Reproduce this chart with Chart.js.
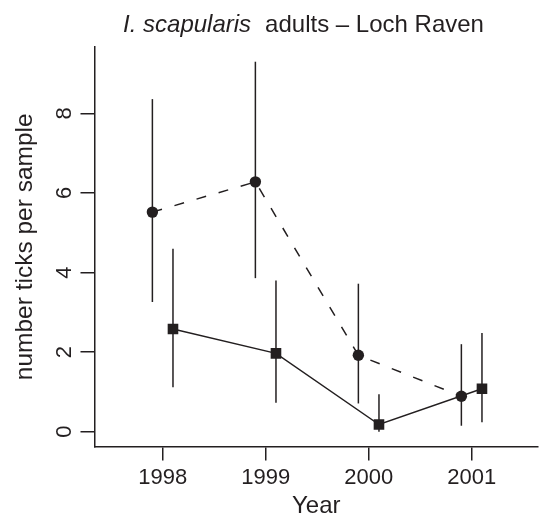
<!DOCTYPE html>
<html><head><meta charset="utf-8">
<script src="https://cdn.jsdelivr.net/npm/chart.js@4/dist/chart.umd.min.js"></script>
<style>html,body{margin:0;padding:0;background:#fff}</style>
</head><body>
<canvas id="c" width="539" height="519"></canvas>
<script>
// ---- data ----
const years = [1998, 1999, 2000, 2001];
const yTicks = [0, 2, 4, 6, 8];
// circles, dashed line
const circleMean = [5.52, 6.28, 1.92, 0.89];
const circleLow  = [3.26, 3.86, 0.71, 0.15];
const circleHigh = [8.36, 9.30, 3.72, 2.20];
// squares, solid line
const squareMean = [2.58, 1.97, 0.18, 1.08];
const squareLow  = [1.12, 0.73, 0.00, 0.24];
const squareHigh = [4.60, 3.80, 0.94, 2.48];
const yearShift = 0.1; // horizontal dodge of the two series

const INK = '#231f20';
const FONT = '"Liberation Sans", Arial, Helvetica, sans-serif';

const errorBars = {
  id: 'errorBars',
  beforeDatasetsDraw(chart) {
    const ctx = chart.ctx, xs = chart.scales.x, ys = chart.scales.y;
    ctx.save();
    ctx.strokeStyle = INK;
    ctx.lineWidth = 1.5;
    chart.data.datasets.forEach(ds => {
      ds.data.forEach((p, i) => {
        const x = xs.getPixelForValue(p.x);
        ctx.beginPath();
        ctx.moveTo(x, ys.getPixelForValue(ds.low[i]));
        ctx.lineTo(x, ys.getPixelForValue(ds.high[i]));
        ctx.stroke();
      });
    });
    ctx.restore();
  }
};

const extraText = {
  id: 'extraText',
  afterDraw(chart) {
    const ctx = chart.ctx, ys = chart.scales.y, ca = chart.chartArea;
    ctx.save();
    ctx.fillStyle = INK;
    ctx.font = '22px ' + FONT;
    ctx.textAlign = 'center';
    ctx.textBaseline = 'middle';
    yTicks.forEach(v => {
      const y = ys.getPixelForValue(v);
      ctx.save();
      ctx.translate(ca.left - 29.5, y);
      ctx.rotate(-Math.PI / 2);
      ctx.fillText(String(v), 0, 0);
      ctx.restore();
    });
    const part1 = 'I. scapularis', part2 = 'adults \u2013 Loch Raven', gap = 14;
    ctx.textAlign = 'left';
    ctx.textBaseline = 'alphabetic';
    ctx.font = 'italic 24px ' + FONT;
    const w1 = ctx.measureText(part1).width;
    ctx.font = '24px ' + FONT;
    const w2 = ctx.measureText(part2).width;
    const x0 = 303.5 - (w1 + gap + w2) / 2;
    ctx.font = 'italic 24px ' + FONT;
    ctx.fillText(part1, x0, 32);
    ctx.font = '24px ' + FONT;
    ctx.fillText(part2, x0 + w1 + gap, 32);
    ctx.restore();
  }
};

new Chart(document.getElementById('c'), {
  type: 'scatter',
  data: {
    datasets: [
      {
        data: years.map((yr, i) => ({ x: yr - yearShift, y: circleMean[i] })),
        low: circleLow, high: circleHigh,
        showLine: true, borderColor: INK, backgroundColor: INK,
        borderWidth: 1.5, borderDash: [10, 13], tension: 0,
        pointStyle: 'circle', pointRadius: 5.7, pointBorderWidth: 0,
        pointBackgroundColor: INK
      },
      {
        data: years.map((yr, i) => ({ x: yr + yearShift, y: squareMean[i] })),
        low: squareLow, high: squareHigh,
        showLine: true, borderColor: INK, backgroundColor: INK,
        borderWidth: 1.5, tension: 0,
        pointStyle: 'rect', pointRadius: 7.5, pointBorderWidth: 0,
        pointBackgroundColor: INK
      }
    ]
  },
  options: {
    responsive: false,
    animation: false,
    devicePixelRatio: 1,
    layout: { autoPadding: false, padding: { top: 47, right: 1, left: 0, bottom: 0 } },
    plugins: { legend: { display: false }, tooltip: { enabled: false } },
    scales: {
      x: {
        type: 'linear', min: 1997.338, max: 2001.644,
        afterBuildTicks: s => { s.ticks = years.map(v => ({ value: v })); },
        afterFit: s => { s.height = 72.5; },
        grid: { drawOnChartArea: false, drawTicks: true, tickLength: 14, color: INK, lineWidth: 1.5 },
        border: { display: true, color: INK, width: 1.5 },
        ticks: { color: INK, font: { family: FONT, size: 22 }, padding: 4, maxRotation: 0, autoSkip: false,
                  callback: v => String(v) },
        title: { display: true, text: 'Year', color: INK, font: { family: FONT, size: 24, lineHeight: 1 },
                 padding: { top: 0, bottom: 0.3 } }
      },
      y: {
        type: 'linear', min: -0.372, max: 9.67,
        afterBuildTicks: s => { s.ticks = yTicks.map(v => ({ value: v })); },
        afterFit: s => { s.width = 94.5; },
        grid: { drawOnChartArea: false, drawTicks: true, tickLength: 14, color: INK, lineWidth: 1.5 },
        border: { display: true, color: INK, width: 1.5 },
        ticks: { display: false },
        title: { display: true, text: 'number ticks per sample', color: INK,
                 font: { family: FONT, size: 24.5, lineHeight: 1 }, padding: { top: 12.5, bottom: 0 } }
      }
    }
  },
  plugins: [errorBars, extraText]
});
</script>
</body></html>
